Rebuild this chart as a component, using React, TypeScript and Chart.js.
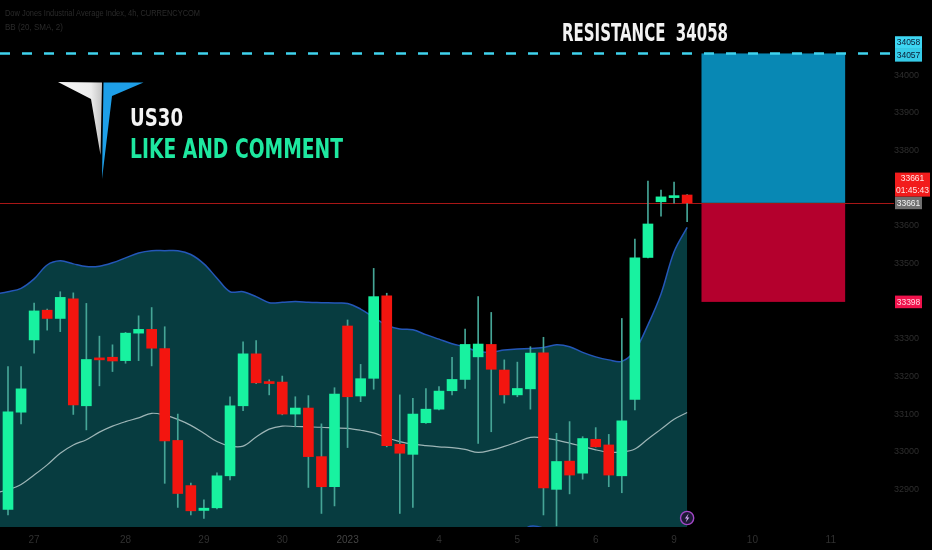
import React, { useEffect, useRef } from 'react';
import { Chart, registerables } from 'chart.js';

Chart.register(...registerables);

// ---- data (4h candles, Dow Jones / US30) ----
const OPEN = [32847, 33105, 33297, 33376, 33354, 33406, 33122, 33248, 33251, 33242, 33315, 33325, 33274, 33030, 32910, 32844, 32851, 32936, 33122, 33260, 33184, 33185, 33100, 33116, 32987, 32907, 33334, 33148, 33195, 33414, 33020, 32993, 33077, 33113, 33162, 33192, 33252, 33285, 33217, 33151, 33167, 33263, 32900, 32975, 32943, 33033, 33018, 32936, 33139, 33516, 33664, 33675, 33682];
const HIGH = [33226, 33226, 33395, 33379, 33425, 33422, 33394, 33307, 33284, 33317, 33361, 33383, 33332, 33100, 32917, 32872, 32944, 33146, 33292, 33295, 33191, 33201, 33146, 33149, 33074, 33170, 33350, 33232, 33487, 33421, 33151, 33142, 33168, 33173, 33251, 33326, 33412, 33370, 33244, 33238, 33279, 33304, 33049, 33080, 33040, 33064, 33046, 33354, 33565, 33719, 33695, 33716, 33683];
const LOW = [32832, 33074, 33262, 33323, 33319, 33099, 33058, 33175, 33213, 33235, 33242, 33228, 32916, 32852, 32832, 32823, 32848, 32925, 33109, 33181, 33151, 33098, 33066, 32905, 32836, 32856, 33011, 33133, 33166, 33013, 32836, 32852, 33075, 33111, 33151, 33168, 33022, 33053, 33129, 33146, 33113, 32832, 32803, 32888, 32927, 33012, 32907, 32891, 33111, 33515, 33626, 33660, 33611];
const CLOSE = [33106, 33167, 33374, 33354, 33410, 33124, 33245, 33244, 33241, 33315, 33325, 33275, 33029, 32889, 32843, 32850, 32936, 33122, 33260, 33183, 33181, 33100, 33116, 32987, 32907, 33153, 33146, 33194, 33412, 33016, 32996, 33100, 33113, 33161, 33192, 33285, 33286, 33219, 33151, 33168, 33262, 32904, 32974, 32938, 33035, 33013, 32938, 33082, 33515, 33605, 33677, 33679, 33661];

// Bollinger bands start one bar before the first visible candle (bar index -1)
const BB_FIRST_INDEX = -1;
const BB_UPPER = [33419, 33425, 33434, 33459, 33496, 33507, 33499, 33492, 33493, 33502, 33515, 33528, 33534, 33534, 33534, 33524, 33499, 33461, 33425, 33425, 33412, 33396, 33397, 33399, 33397, 33396, 33395, 33394, 33379, 33357, 33336, 33326, 33324, 33311, 33299, 33287, 33278, 33266, 33265, 33270, 33273, 33274, 33277, 33284, 33279, 33264, 33252, 33244, 33240, 33269, 33337, 33419, 33531, 33596];
const BB_MIDDLE = [32890, 32899, 32913, 32938, 32965, 32996, 33018, 33032, 33052, 33068, 33080, 33090, 33102, 33097, 33086, 33070, 33049, 33027, 33015, 33015, 33039, 33060, 33068, 33067, 33066, 33065, 33063, 33062, 33057, 33050, 33037, 33027, 33020, 33016, 33013, 33011, 33006, 32998, 33004, 33014, 33026, 33038, 33037, 33031, 33023, 33014, 33005, 32999, 32999, 33007, 33034, 33060, 33086, 33104];
const BB_LOWER = [32361, 32373, 32392, 32417, 32434, 32485, 32537, 32572, 32611, 32634, 32645, 32652, 32670, 32660, 32638, 32616, 32599, 32593, 32605, 32605, 32666, 32724, 32739, 32735, 32735, 32734, 32731, 32730, 32735, 32743, 32738, 32728, 32716, 32721, 32727, 32735, 32734, 32730, 32743, 32758, 32779, 32802, 32797, 32778, 32767, 32764, 32758, 32754, 32758, 32745, 32731, 32701, 32641, 32612];

const TIME_TICK_INDEX = [2, 9, 15, 21, 26, 33, 39, 45, 51, 57, 63];
const TIME_TICK_LABELS = ['27', '28', '29', '30', '2023', '4', '5', '6', '9', '10', '11'];
const PRICE_TICKS = [34000, 33900, 33800, 33600, 33500, 33300, 33200, 33100, 33000, 32900];

const RESISTANCE = 34058;
const RESISTANCE_B = 34057;
const LAST_PRICE = 33661;
const STOP_PRICE = 33398;
const COUNTDOWN = '01:45:43';
const POSITION_START = 53.1;
const POSITION_END = 64.1;

const HEADER_LINE_1 = 'Dow Jones Industrial Average Index, 4h, CURRENCYCOM';
const HEADER_LINE_2 = 'BB (20, SMA, 2)';
const TITLE = 'US30';
const SUBTITLE = 'LIKE AND COMMENT';
const RESISTANCE_TEXT = 'RESISTANCE  34058';

const Y_MIN = 32800;
const Y_MAX = 34200;
const X_MIN = -0.6126;
const X_MAX = 67.84;

const GREEN = '#18f2a0';
const RED = '#f3150f';
const WICK = '#45a596';

function fitText(ctx: CanvasRenderingContext2D, text: string, x: number, baseline: number, width: number, size: number, color: string, family = '"DejaVu Sans"', weight = 'normal') {
  ctx.save();
  ctx.font = `${weight} ${size}px ${family}`;
  ctx.fillStyle = color;
  ctx.textAlign = 'left';
  ctx.textBaseline = 'alphabetic';
  const w = ctx.measureText(text).width;
  ctx.translate(x, baseline);
  ctx.scale(width / w, 1);
  ctx.fillText(text, 0, 0);
  ctx.restore();
}

function badge(ctx: CanvasRenderingContext2D, x: number, yTop: number, w: number, h: number, bg: string, fg: string, lines: string[]) {
  ctx.save();
  ctx.fillStyle = bg;
  ctx.fillRect(x, yTop, w, h);
  ctx.fillStyle = fg;
  ctx.font = '8.5px "Liberation Sans"';
  ctx.textAlign = 'center';
  ctx.textBaseline = 'middle';
  const lh = h / lines.length;
  lines.forEach((t, k) => ctx.fillText(t, x + w / 2, yTop + lh * (k + 0.5) + 0.5));
  ctx.restore();
}

export default function App() {
  const ref = useRef<HTMLCanvasElement>(null);

  useEffect(() => {
    document.body.style.margin = '0';
    document.body.style.background = '#000';
    const canvas = ref.current!;
    const idx = OPEN.map((_, i) => i);
    const colors = OPEN.map((o, i) => (CLOSE[i] >= o ? GREEN : RED));
    const band = (arr: number[]) => arr.map((v, k) => ({ x: BB_FIRST_INDEX + k, y: v }));

    const overlay = {
      id: 'overlay',
      beforeDraw(chart: any) {
        const ctx = chart.ctx;
        ctx.save();
        ctx.fillStyle = '#000';
        ctx.fillRect(0, 0, chart.width, chart.height);
        ctx.restore();
      },
      beforeDatasetsDraw(chart: any) {
        const ctx = chart.ctx;
        const xs = chart.scales.x;
        const ys = chart.scales.y;
        const a = chart.chartArea;
        const x0 = xs.getPixelForValue(POSITION_START);
        const x1 = xs.getPixelForValue(POSITION_END);
        const yT = ys.getPixelForValue(RESISTANCE);
        const yE = ys.getPixelForValue(LAST_PRICE);
        const yS = ys.getPixelForValue(STOP_PRICE);
        ctx.save();
        ctx.fillStyle = '#0888b4';
        ctx.fillRect(x0, yT, x1 - x0, yE - yT);
        ctx.fillStyle = '#b4002d';
        ctx.fillRect(x0, yE, x1 - x0, yS - yE);
        ctx.strokeStyle = '#a81616';
        ctx.lineWidth = 1;
        ctx.beginPath();
        ctx.moveTo(a.left, Math.round(yE) + 0.5);
        ctx.lineTo(a.right, Math.round(yE) + 0.5);
        ctx.stroke();
        ctx.restore();
      },
      afterDatasetsDraw(chart: any) {
        const ctx = chart.ctx;
        const xs = chart.scales.x;
        const ys = chart.scales.y;
        const a = chart.chartArea;
        // resistance dashed line
        const yR = ys.getPixelForValue(RESISTANCE);
        ctx.save();
        ctx.strokeStyle = '#3fd3ee';
        ctx.lineWidth = 2.5;
        ctx.setLineDash([10, 12]);
        ctx.beginPath();
        ctx.moveTo(a.left, yR);
        ctx.lineTo(a.right, yR);
        ctx.stroke();
        ctx.restore();

        // header texts
        fitText(ctx, HEADER_LINE_1, 5, 16, 195, 9, '#2a2a2a', '"Liberation Sans"');
        fitText(ctx, HEADER_LINE_2, 5, 30, 58, 9, '#2a2a2a', '"Liberation Sans"');

        // resistance label
        fitText(ctx, RESISTANCE_TEXT, 562, 40.7, 166, 24, '#f2f2f2', '"DejaVu Sans"', 'bold');

        // logo
        ctx.save();
        const g = ctx.createLinearGradient(58, 82, 102, 82);
        g.addColorStop(0, '#f6f6f6');
        g.addColorStop(0.75, '#ececec');
        g.addColorStop(1, '#c4c4c4');
        ctx.fillStyle = g;
        ctx.beginPath();
        ctx.moveTo(58, 82);
        ctx.lineTo(102, 82.5);
        ctx.lineTo(100.5, 155);
        ctx.lineTo(91, 99);
        ctx.closePath();
        ctx.fill();
        ctx.fillStyle = '#1e9fe8';
        ctx.beginPath();
        ctx.moveTo(103.5, 82.5);
        ctx.lineTo(143.5, 82.5);
        ctx.lineTo(112, 96);
        ctx.lineTo(102, 179);
        ctx.closePath();
        ctx.fill();
        ctx.restore();

        fitText(ctx, TITLE, 130, 125.7, 53, 25, '#f4f4f4', '"DejaVu Sans"', 'bold');
        fitText(ctx, SUBTITLE, 130, 158.3, 213, 27, '#1ee8a0', '"DejaVu Sans"', 'bold');

        // lightning marker at last bar
        const cx = xs.getPixelForValue(OPEN.length - 1);
        const cy = a.bottom - 9;
        ctx.save();
        ctx.beginPath();
        ctx.arc(cx, cy, 6.6, 0, Math.PI * 2);
        ctx.fillStyle = '#1d1a36';
        ctx.fill();
        ctx.lineWidth = 1.4;
        ctx.strokeStyle = '#a447c8';
        ctx.stroke();
        ctx.fillStyle = '#d4a8f5';
        ctx.beginPath();
        ctx.moveTo(cx + 1.5, cy - 4.5);
        ctx.lineTo(cx - 2.2, cy + 0.6);
        ctx.lineTo(cx - 0.1, cy + 0.6);
        ctx.lineTo(cx - 1.5, cy + 4.5);
        ctx.lineTo(cx + 2.2, cy - 0.6);
        ctx.lineTo(cx + 0.1, cy - 0.6);
        ctx.closePath();
        ctx.fill();
        ctx.restore();
      },
      afterDraw(chart: any) {
        const ctx = chart.ctx;
        const ys = chart.scales.y;
        const bx = chart.chartArea.right + 1;
        const yR2 = ys.getPixelForValue(RESISTANCE_B);
        badge(ctx, bx, yR2 - 17.6, 27, 12.7, '#3dd6f3', '#0b1d35', [String(RESISTANCE)]);
        badge(ctx, bx, yR2 - 4.9, 27, 12.7, '#36cbe8', '#0b1d35', [String(RESISTANCE_B)]);
        const yL = ys.getPixelForValue(LAST_PRICE);
        badge(ctx, bx, yL - 6.3, 27, 12.6, '#707070', '#f2f2f2', [String(LAST_PRICE)]);
        badge(ctx, bx, yL - 30.3, 35, 24, '#f21c1c', '#ffe4e4', [String(LAST_PRICE), COUNTDOWN]);
        const yS = ys.getPixelForValue(STOP_PRICE);
        badge(ctx, bx, yS - 6.3, 27, 12.6, '#f0124c', '#ffd6e0', [String(STOP_PRICE)]);
      },
    };

    const zeroPad = (s: any) => {
      s.paddingTop = 0;
      s.paddingBottom = 0;
      s.paddingLeft = 0;
      s.paddingRight = 0;
    };

    const chart = new Chart(canvas, {
      type: 'bar',
      data: {
        datasets: [
          {
            type: 'bar',
            label: 'body',
            data: idx.map((i) => ({ x: i, y: [OPEN[i], CLOSE[i]] })) as any,
            backgroundColor: colors,
            barThickness: 10,
            minBarLength: 2,
            grouped: false,
            order: 0,
          } as any,
          {
            type: 'bar',
            label: 'wick',
            data: idx.map((i) => ({ x: i, y: [LOW[i], HIGH[i]] })) as any,
            backgroundColor: WICK,
            barThickness: 1,
            grouped: false,
            order: 1,
          } as any,
          {
            type: 'line',
            label: 'basis',
            data: band(BB_MIDDLE),
            borderColor: 'rgba(200,215,215,0.78)',
            borderWidth: 1.2,
            pointRadius: 0,
            tension: 0.35,
            fill: false,
            order: 2,
          },
          {
            type: 'line',
            label: 'lower',
            data: band(BB_LOWER),
            borderColor: '#2457b8',
            borderWidth: 1.5,
            pointRadius: 0,
            tension: 0.35,
            fill: false,
            order: 3,
          },
          {
            type: 'line',
            label: 'upper',
            data: band(BB_UPPER),
            borderColor: '#2457b8',
            borderWidth: 1.5,
            pointRadius: 0,
            tension: 0.35,
            fill: 'start',
            backgroundColor: '#073c40',
            order: 4,
          },
        ],
      },
      options: {
        animation: false,
        responsive: false,
        devicePixelRatio: 1,
        events: [],
        layout: { padding: 0 },
        plugins: { legend: { display: false }, tooltip: { enabled: false } },
        scales: {
          x: {
            type: 'linear',
            min: X_MIN,
            max: X_MAX,
            offset: false,
            grid: { display: false, drawTicks: false },
            border: { display: false },
            afterBuildTicks: (s: any) => {
              s.ticks = TIME_TICK_INDEX.map((v) => ({ value: v }));
            },
            afterFit: (s: any) => {
              s.height = 23;
              zeroPad(s);
            },
            ticks: {
              autoSkip: false,
              maxRotation: 0,
              padding: 7,
              font: { family: '"Liberation Sans"', size: 10 },
              color: (c: any) => (c.tick && c.tick.value === 26 ? '#444444' : '#303030'),
              callback: (_v: any, i: number) => TIME_TICK_LABELS[i],
            },
          },
          y: {
            type: 'linear',
            position: 'right',
            min: Y_MIN,
            max: Y_MAX,
            grid: { display: false, drawTicks: false },
            border: { display: false },
            afterBuildTicks: (s: any) => {
              s.ticks = PRICE_TICKS.map((v) => ({ value: v }));
            },
            afterFit: (s: any) => {
              s.width = 38;
              zeroPad(s);
            },
            ticks: {
              autoSkip: false,
              padding: 0,
              crossAlign: 'center',
              font: { family: '"Liberation Sans"', size: 9 },
              color: '#2e2e2e',
              callback: (v: any) => String(v),
            },
          },
        },
      },
      plugins: [overlay],
    } as any);

    return () => chart.destroy();
  }, []);

  return (
    <div style={{ width: 932, height: 550, background: '#000' }}>
      <canvas ref={ref} width={932} height={550} style={{ display: 'block' }} />
    </div>
  );
}
